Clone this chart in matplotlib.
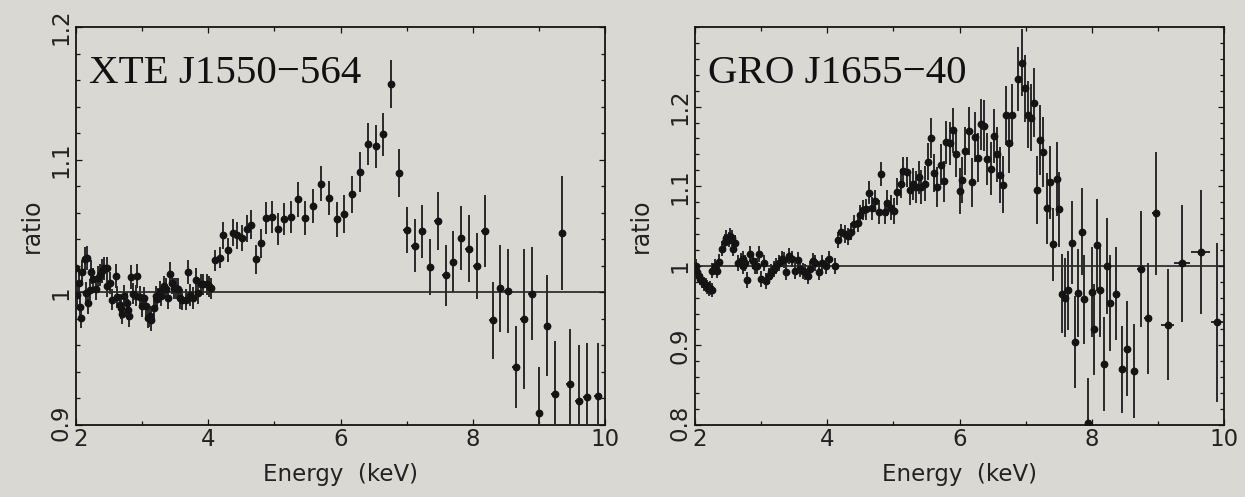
import matplotlib
matplotlib.use("Agg")
import matplotlib.pyplot as plt
from matplotlib.ticker import MultipleLocator, FixedLocator, FuncFormatter
from matplotlib.transforms import ScaledTranslation

# ---------------- data: XTE J1550-564 ----------------
xte_e_lo = [2.005, 2.02, 2.045, 2.06, 2.07, 2.096, 2.13, 2.146, 2.16, 2.18, 2.21, 2.22, 2.26, 2.31, 2.33,
            2.37, 2.40, 2.43, 2.47, 2.47, 2.51, 2.55, 2.60, 2.615, 2.665, 2.675, 2.70, 2.726, 2.766,
            2.786, 2.80, 2.837, 2.867, 2.90, 2.927, 2.968, 3.003, 3.028, 3.053, 3.089, 3.12, 3.14,
            3.18, 3.205, 3.23, 3.27, 3.29, 3.33, 3.356, 3.39, 3.42, 3.457, 3.48, 3.507, 3.54, 3.57,
            3.61, 3.66, 3.69, 3.73, 3.77, 3.81, 3.845, 3.885, 3.925, 3.976, 4.01, 4.046]
xte_r_lo = [1.018, 0.998, 1.007, 0.989, 0.981, 1.015, 1.025, 0.9995, 1.026, 0.992, 1.002, 1.015, 1.010,
            1.0025, 1.011, 1.013, 1.016, 1.018, 1.018, 1.0045, 1.007, 0.9945, 1.0126, 0.9965,
            0.9907, 0.988, 0.984, 0.9975, 0.992, 0.987, 0.982, 1.0116, 0.999, 0.9975, 1.012,
            0.9965, 0.9894, 0.9957, 0.9894, 0.981, 0.982, 0.979, 0.988, 0.997, 0.995, 1.0008,
            0.9975, 1.0045, 1.0025, 0.9957, 1.014, 1.007, 1.003, 1.003, 1.0025, 0.9957, 0.9945,
            0.9945, 1.015, 0.998, 0.9957, 1.0095, 0.9995, 1.006, 1.006, 1.006, 1.0045, 1.003]
xte_err_lo = [0.009, 0.008, 0.009, 0.008, 0.008, 0.009, 0.009, 0.008, 0.009, 0.008, 0.008, 0.009, 0.008,
              0.008, 0.009, 0.008, 0.009, 0.009, 0.009, 0.008, 0.008, 0.008, 0.009, 0.008,
              0.008, 0.008, 0.008, 0.008, 0.008, 0.008, 0.008, 0.009, 0.008, 0.008, 0.009,
              0.008, 0.008, 0.008, 0.008, 0.008, 0.008, 0.008, 0.008, 0.008, 0.008, 0.008,
              0.008, 0.008, 0.008, 0.008, 0.009, 0.008, 0.008, 0.008, 0.008, 0.008, 0.008,
              0.008, 0.009, 0.008, 0.008, 0.009, 0.008, 0.008, 0.008, 0.008, 0.008, 0.008]

xte_e_hi = [4.10, 4.18, 4.22, 4.30, 4.37, 4.43, 4.51, 4.59, 4.65, 4.72, 4.80, 4.87, 4.96, 5.05, 5.14,
            5.25, 5.36, 5.47, 5.59, 5.71, 5.82, 5.94, 6.06, 6.17, 6.29, 6.41, 6.53, 6.65, 6.77,
            6.89, 7.00, 7.12, 7.23, 7.36, 7.47, 7.59, 7.70, 7.82, 7.94, 8.06, 8.18, 8.30, 8.41,
            8.53, 8.65, 8.77, 8.89, 9.00, 9.12, 9.24, 9.35, 9.47, 9.60, 9.73, 9.89]
xte_r_hi = [1.024, 1.026, 1.043, 1.032, 1.045, 1.043, 1.041, 1.048, 1.051, 1.025, 1.037, 1.056, 1.057,
            1.048, 1.055, 1.057, 1.070, 1.056, 1.065, 1.082, 1.071, 1.055, 1.059, 1.074, 1.091,
            1.112, 1.110, 1.119, 1.157, 1.090, 1.047, 1.035, 1.046, 1.019, 1.054, 1.013, 1.023,
            1.041, 1.033, 1.020, 1.046, 0.979, 1.003, 1.001, 0.944, 0.980, 0.999, 0.909, 0.975,
            0.923, 1.045, 0.931, 0.918, 0.921, 0.922]
xte_err_hi = [0.008, 0.008, 0.010, 0.009, 0.010, 0.010, 0.010, 0.010, 0.011, 0.011, 0.011, 0.012, 0.012,
              0.012, 0.012, 0.012, 0.013, 0.013, 0.013, 0.013, 0.013, 0.013, 0.014, 0.014, 0.015,
              0.016, 0.016, 0.016, 0.018, 0.018, 0.017, 0.020, 0.020, 0.021, 0.022, 0.023, 0.023,
              0.024, 0.025, 0.025, 0.027, 0.029, 0.033, 0.032, 0.031, 0.053, 0.035, 0.035, 0.038,
              0.040, 0.043, 0.041, 0.042, 0.041, 0.040]
xte_xerr_hi = [0.03, 0.03, 0.03, 0.03, 0.03, 0.03, 0.03, 0.03, 0.03, 0.03, 0.04, 0.04, 0.04, 0.04, 0.04,
               0.04, 0.04, 0.04, 0.04, 0.04, 0.04, 0.04, 0.04, 0.04, 0.04, 0.04, 0.04, 0.04, 0.05,
               0.05, 0.05, 0.05, 0.05, 0.05, 0.05, 0.05, 0.05, 0.05, 0.05, 0.05, 0.05, 0.05, 0.05,
               0.05, 0.05, 0.05, 0.05, 0.05, 0.05, 0.05, 0.05, 0.06, 0.06, 0.06, 0.06]

# ---------------- data: GRO J1655-40 ----------------
gro_e_lo = [2.01, 2.03, 2.06, 2.08, 2.11, 2.13, 2.16, 2.18, 2.21, 2.23, 2.26, 2.26, 2.30, 2.33, 2.36,
            2.41, 2.45, 2.47, 2.51, 2.53, 2.56, 2.58, 2.61, 2.65, 2.69, 2.72, 2.73, 2.75, 2.79,
            2.83, 2.87, 2.90, 2.94, 2.97, 3.00, 3.04, 3.08, 3.12, 3.15, 3.19, 3.23, 3.27, 3.31,
            3.34, 3.37, 3.42, 3.46, 3.51, 3.56, 3.59, 3.63, 3.67, 3.71, 3.74, 3.78, 3.82, 3.88,
            3.925, 3.976, 4.03, 4.11]
gro_r_lo = [1.000, 0.9917, 0.9875, 0.984, 0.981, 0.977, 0.976, 0.973, 0.971, 0.972, 0.970, 0.994, 1.000,
            0.994, 1.005, 1.0217, 1.030, 1.035, 1.033, 1.0375, 1.035, 1.0217, 1.029, 1.004, 1.006,
            1.009, 1.000, 1.004, 0.982, 1.0146, 1.006, 1.000, 1.000, 1.0146, 0.983, 1.004, 0.981,
            0.9875, 0.9917, 0.9958, 1.000, 1.004, 1.008, 1.0075, 0.9925, 1.0125, 1.008, 0.994,
            1.0075, 0.996, 0.994, 0.9925, 0.9875, 0.996, 1.006, 1.004, 0.9917, 1.004, 1.000,
            1.008, 1.000]
gro_err_lo = [0.008, 0.008, 0.008, 0.008, 0.009, 0.009, 0.009, 0.009, 0.009, 0.009, 0.009, 0.009, 0.009,
              0.009, 0.010, 0.010, 0.010, 0.010, 0.010, 0.010, 0.010, 0.010, 0.010, 0.010, 0.010,
              0.010, 0.010, 0.010, 0.010, 0.010, 0.010, 0.010, 0.010, 0.010, 0.010, 0.010, 0.010,
              0.010, 0.010, 0.010, 0.010, 0.010, 0.010, 0.010, 0.010, 0.010, 0.010, 0.010, 0.010,
              0.010, 0.010, 0.010, 0.010, 0.010, 0.010, 0.010, 0.010, 0.010, 0.010, 0.010, 0.010]

gro_e_hi = [4.17, 4.21, 4.27, 4.31, 4.36, 4.41, 4.46, 4.50, 4.54, 4.59,
            4.63, 4.68, 4.72, 4.78, 4.82, 4.87, 4.91, 4.96, 5.01, 5.06,
            5.11, 5.15, 5.20, 5.25, 5.30, 5.34, 5.38, 5.42, 5.48, 5.52,
            5.57, 5.62, 5.66, 5.72, 5.76, 5.80, 5.85, 5.90, 5.95, 6.00,
            6.04, 6.09, 6.14, 6.19, 6.23, 6.28, 6.33, 6.37, 6.42, 6.47,
            6.52, 6.57, 6.61, 6.66, 6.70, 6.75, 6.79, 6.88, 6.94, 6.99,
            7.03, 7.08, 7.13, 7.17, 7.22, 7.27, 7.32, 7.37, 7.42, 7.47,
            7.51, 7.55, 7.60, 7.64, 7.70, 7.75, 7.79, 7.85, 7.89, 7.95,
            8.00, 8.03, 8.08, 8.13, 8.18, 8.23, 8.28, 8.36, 8.45, 8.54,
            8.64, 8.74, 8.845, 8.975, 9.15, 9.37, 9.645, 9.90]
gro_r_hi = [1.0326, 1.042, 1.040, 1.037, 1.043, 1.052, 1.054, 1.064, 1.070, 1.071,
            1.092, 1.072, 1.081, 1.068, 1.115, 1.067, 1.079, 1.073, 1.069, 1.093,
            1.103, 1.119, 1.118, 1.095, 1.103, 1.099, 1.111, 1.099, 1.103, 1.131,
            1.161, 1.117, 1.099, 1.127, 1.106, 1.155, 1.154, 1.170, 1.140, 1.094,
            1.108, 1.144, 1.169, 1.105, 1.162, 1.136, 1.178, 1.176, 1.134, 1.122,
            1.163, 1.140, 1.114, 1.102, 1.189, 1.154, 1.190, 1.235, 1.255, 1.223,
            1.190, 1.186, 1.205, 1.095, 1.158, 1.143, 1.072, 1.105, 1.027, 1.109,
            1.071, 0.965, 0.960, 0.969, 1.029, 0.904, 0.966, 1.043, 0.958, 0.803,
            0.967, 0.920, 1.026, 0.969, 0.877, 1.000, 0.953, 0.965, 0.870, 0.896,
            0.868, 0.996, 0.934, 1.066, 0.926, 1.003, 1.017, 0.929]
gro_err_hi = [0.010, 0.010, 0.011, 0.011, 0.011, 0.012, 0.012, 0.012, 0.013, 0.013,
              0.014, 0.014, 0.014, 0.015, 0.015, 0.015, 0.016, 0.016, 0.016, 0.017,
              0.018, 0.018, 0.019, 0.019, 0.020, 0.020, 0.021, 0.021, 0.022, 0.023,
              0.025, 0.024, 0.025, 0.026, 0.026, 0.027, 0.027, 0.028, 0.028, 0.029,
              0.029, 0.030, 0.030, 0.031, 0.031, 0.031, 0.032, 0.032, 0.033, 0.033,
              0.034, 0.035, 0.035, 0.036, 0.037, 0.038, 0.039, 0.040, 0.042, 0.042,
              0.042, 0.042, 0.043, 0.043, 0.044, 0.044, 0.045, 0.046, 0.046, 0.047,
              0.047, 0.050, 0.050, 0.050, 0.052, 0.058, 0.055, 0.055, 0.056, 0.056,
              0.057, 0.057, 0.058, 0.058, 0.059, 0.060, 0.060, 0.058, 0.055, 0.060,
              0.059, 0.073, 0.070, 0.077, 0.070, 0.074, 0.078, 0.100]
gro_xerr_hi = [0.02, 0.02, 0.02, 0.02, 0.02, 0.02, 0.02, 0.02, 0.02, 0.02,
               0.02, 0.02, 0.02, 0.02, 0.02, 0.02, 0.02, 0.02, 0.02, 0.02,
               0.02, 0.02, 0.02, 0.02, 0.02, 0.02, 0.02, 0.02, 0.02, 0.02,
               0.02, 0.02, 0.02, 0.02, 0.02, 0.02, 0.02, 0.02, 0.02, 0.02,
               0.02, 0.02, 0.02, 0.02, 0.02, 0.02, 0.02, 0.02, 0.02, 0.02,
               0.02, 0.02, 0.02, 0.02, 0.02, 0.02, 0.02, 0.03, 0.03, 0.03,
               0.03, 0.03, 0.03, 0.03, 0.03, 0.03, 0.03, 0.03, 0.03, 0.03,
               0.03, 0.03, 0.03, 0.03, 0.03, 0.03, 0.03, 0.03, 0.03, 0.03,
               0.03, 0.03, 0.03, 0.03, 0.03, 0.03, 0.03, 0.04, 0.04, 0.05,
               0.05, 0.05, 0.05, 0.06, 0.10, 0.12, 0.15, 0.10]

panels = [
    dict(name="XTE J1550\u2212564",
         e=xte_e_lo + xte_e_hi, r=xte_r_lo + xte_r_hi,
         err=xte_err_lo + xte_err_hi,
         xerr=[0.015] * len(xte_e_lo) + xte_xerr_hi,
         ylim=(0.9, 1.2), yticks=[0.9, 1.0, 1.1, 1.2]),
    dict(name="GRO J1655\u221240",
         e=gro_e_lo + gro_e_hi, r=gro_r_lo + gro_r_hi,
         err=gro_err_lo + gro_err_hi,
         xerr=[0.015] * len(gro_e_lo) + gro_xerr_hi,
         ylim=(0.8, 1.3), yticks=[0.8, 0.9, 1.0, 1.1, 1.2]),
]

BG = "#dad8d3"
INK = "#141414"
W, H = 1245, 497

fig = plt.figure(figsize=(W / 100, H / 100), dpi=100, facecolor=BG)

ax_px = [(76, 27, 605, 425), (695, 27, 1224, 425)]
ylab_x = [32, 641]

for (x0, y0, x1, y1), p, yl in zip(ax_px, panels, ylab_x):
    ax = fig.add_axes([x0 / W, 1 - y1 / H, (x1 - x0) / W, (y1 - y0) / H])
    ax.set_facecolor(BG)
    ax.set_xlim(2, 10)
    ax.set_ylim(*p["ylim"])
    ax.axhline(1.0, color=INK, lw=1.1, zorder=2)
    ax.errorbar(p["e"], p["r"], yerr=p["err"], xerr=p["xerr"], fmt="o", ms=4.6,
                mfc=INK, mec=INK, ecolor="#2a2a2a", elinewidth=1.4, capsize=0, zorder=3)

    ax.xaxis.set_major_locator(FixedLocator([2, 4, 6, 8, 10]))
    ax.xaxis.set_minor_locator(MultipleLocator(1))
    ax.yaxis.set_major_locator(FixedLocator(p["yticks"]))
    ax.yaxis.set_minor_locator(MultipleLocator(0.02))
    ax.xaxis.set_major_formatter(FuncFormatter(lambda v, pos: f"{v:g}"))
    ax.yaxis.set_major_formatter(FuncFormatter(lambda v, pos: f"{round(v, 2):g}"))
    ax.tick_params(which="both", direction="in", top=True, right=True, color=INK, width=0.9)
    ax.tick_params(which="major", length=4.2)
    ax.tick_params(which="minor", length=2.6)
    ax.tick_params(axis="x", labelsize=16.5, pad=2, labelcolor="#222222")
    ax.tick_params(axis="y", labelsize=16.5, pad=2.5, labelcolor="#222222", labelrotation=90)
    for s in ax.spines.values():
        s.set_linewidth(1.3)
        s.set_color(INK)

    # nudge the corner labels apart as in the original
    xt = ax.xaxis.get_major_ticks()
    yt = ax.yaxis.get_major_ticks()
    for t in yt:
        t.label1.set_va("center")
    xt[0].label1.set_transform(xt[0].label1.get_transform()
                               + ScaledTranslation(0.045, 0, fig.dpi_scale_trans))
    yt[0].label1.set_transform(yt[0].label1.get_transform()
                               + ScaledTranslation(0, 0.025, fig.dpi_scale_trans))

    ax.text(0.0246, 0.859, p["name"], transform=ax.transAxes, fontsize=29.5,
            family="Liberation Serif", color="#111111", ha="left", va="baseline")

    fig.text(((x0 + x1) / 2) / W, 1 - 474 / H, "Energy  (keV)", fontsize=16.5,
             ha="center", va="center", color="#222222")
    fig.text(yl / W, 1 - ((y0 + y1) / 2) / H, "ratio", fontsize=17, rotation=90,
             ha="center", va="center", color="#222222")

fig.savefig("out.png", dpi=100, facecolor=BG)
